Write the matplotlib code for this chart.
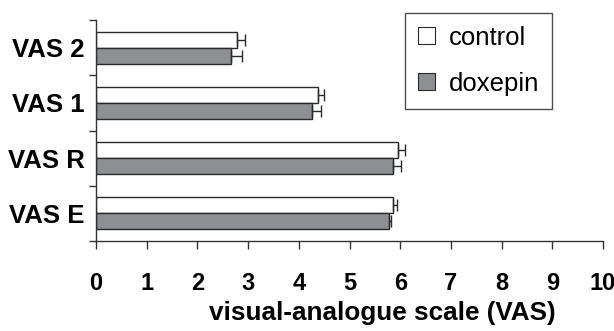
import matplotlib
matplotlib.use("Agg")
import matplotlib.pyplot as plt
from matplotlib.patches import Patch
import numpy as np

categories = ["VAS E", "VAS R", "VAS 1", "VAS 2"]
control = [5.86, 5.95, 4.37, 2.78]
control_err = [0.08, 0.15, 0.13, 0.16]
doxepin = [5.77, 5.86, 4.27, 2.66]
doxepin_err = [0.04, 0.16, 0.17, 0.22]
xticks = list(range(0, 11))

plt.rcParams['font.family'] = ['Liberation Sans', 'DejaVu Sans']

fig = plt.figure(figsize=(6.14, 3.31), dpi=100)
ax = fig.add_axes([96/614, 1-241/331, (603-96)/614, (241-20)/331])

edge = '#2a2a2a'
grey = '#8e8f93'
y = np.arange(len(categories))
h = 0.29
ax.barh(y + h/2, control, height=h, color='white', edgecolor=edge, linewidth=1.0, zorder=2)
ax.barh(y - h/2, doxepin, height=h, color=grey, edgecolor=edge, linewidth=1.0, zorder=2)
ax.errorbar(control, y + h/2, xerr=[np.zeros(len(control)), control_err], fmt='none',
            ecolor=edge, elinewidth=1.0, capsize=4.5, capthick=1.0, zorder=3)
ax.errorbar(doxepin, y - h/2, xerr=[np.zeros(len(doxepin)), doxepin_err], fmt='none',
            ecolor=edge, elinewidth=1.0, capsize=4.5, capthick=1.0, zorder=3)

ax.set_xlim(0, 10)
ax.set_ylim(-0.5, len(categories) - 0.5)
for s in ['top', 'right']:
    ax.spines[s].set_visible(False)
for s in ['left', 'bottom']:
    ax.spines[s].set_color('#333333')
    ax.spines[s].set_linewidth(1.0)

ax.set_xticks(xticks)
ax.set_xticklabels([str(t) for t in xticks], fontsize=17, fontweight='bold')
ax.tick_params(axis='x', direction='out', length=6, width=1, color='#333333', pad=16)

ax.set_yticks(y)
ax.set_yticklabels(categories, fontsize=18.5, fontweight='bold')
ax.set_yticks(np.arange(-0.5, len(categories)), minor=True)
ax.tick_params(axis='y', which='major', length=0, pad=8)
ax.tick_params(axis='y', which='minor', direction='out', length=5, width=1, color='#333333')

ax.set_xlabel("visual-analogue scale (VAS)", fontsize=18.8, fontweight='bold')
ax.xaxis.set_label_coords((382 - 96) / 507, -0.27)

handles = [Patch(facecolor='white', edgecolor=edge, linewidth=0.8),
           Patch(facecolor=grey, edgecolor=edge, linewidth=0.8)]
leg = fig.legend(handles, ["control", "doxepin"], loc='upper left',
                 bbox_to_anchor=(405/614, 1-13/331), fontsize=18.5, frameon=True,
                 fancybox=False, handlelength=0.65, handleheight=0.65, handletextpad=0.55,
                 labelspacing=0.85, borderpad=0.5, borderaxespad=0)
leg.get_frame().set_edgecolor('#222222')
leg.get_frame().set_linewidth(1.0)

fig.savefig("out.png", dpi=100)
